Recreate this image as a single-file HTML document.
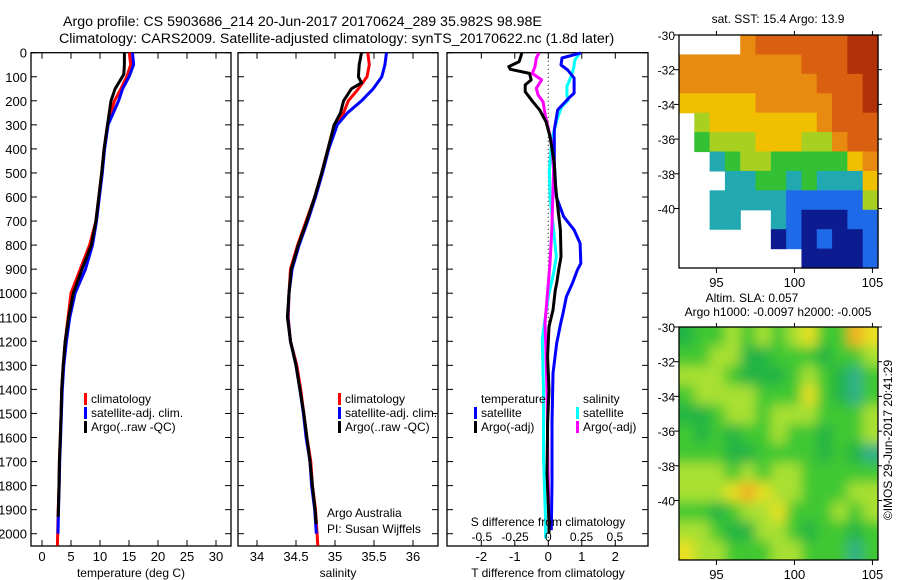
<!DOCTYPE html>
<html><head><meta charset="utf-8"><style>
html,body{margin:0;padding:0;background:#fff;}
svg{display:block;font-family:"Liberation Sans",sans-serif;}
text{fill:#000;}
</style></head><body>
<svg id="fig" width="900" height="580" viewBox="0 0 900 580" xmlns="http://www.w3.org/2000/svg">
<text x="63" y="26" font-size="14.2">Argo profile: CS 5903686_214 20-Jun-2017 20170624_289 35.982S 98.98E</text>
<text x="59" y="43" font-size="14.2">Climatology: CARS2009. Satellite-adjusted climatology: synTS_20170622.nc (1.8d later)</text>
<g id="g1"></g>
<g id="g2"></g>
<g id="g3"></g>
<g id="m1"></g>
<g id="m2"></g>
<text transform="translate(892,440) rotate(-90)" font-size="12" text-anchor="middle">©IMOS 29-Jun-2017 20:41:29</text>
</svg>
<script>
// ---- data ----
const depthTicks=[0,100,200,300,400,500,600,700,800,900,1000,1100,1200,1300,1400,1500,1600,1700,1800,1900,2000];
const tDepth=[0,50,100,150,200,300,400,500,600,700,800,900,1000,1100,1200,1300,1400,1500,1600,1700,1800,1900,2000,2050];
const tClim=[15.05,15.3,14.6,13.6,12.5,11.3,10.7,10.3,9.8,9.3,8.2,6.6,5.0,4.5,4.0,3.66,3.4,3.3,3.15,3.0,2.93,2.8,2.7,2.65];
const tSat=[15.6,15.8,15.0,13.9,13.2,11.4,10.8,10.4,9.9,9.4,8.7,7.5,5.7,4.8,4.2,3.75,3.5,3.35,3.2,3.05,2.97,2.85,2.75];
const tArgoDepth=[0,50,90,150,200,300,400,500,600,700,800,900,1000,1100,1200,1300,1400,1500,1600,1700,1800,1930];
const tArgo=[14.2,14.2,14.1,12.6,11.9,11.3,10.7,10.3,9.8,9.3,8.5,6.9,5.4,4.6,4.0,3.66,3.4,3.3,3.15,3.0,2.93,2.8];
const sDepth=[0,50,100,150,200,250,300,400,500,600,700,800,900,1000,1100,1200,1300,1400,1500,1600,1700,1800,1900,2000,2050];
const sClim=[35.42,35.44,35.41,35.30,35.17,35.11,34.99,34.91,34.83,34.74,34.63,34.52,34.43,34.41,34.40,34.43,34.51,34.56,34.60,34.64,34.69,34.71,34.75,34.77,34.78];
const sSat=[35.66,35.64,35.60,35.49,35.34,35.16,35.03,34.92,34.84,34.75,34.65,34.54,34.45,34.41,34.395,34.43,34.50,34.55,34.595,34.63,34.68,34.70,34.74,34.76];
const sArgoDepth=[0,50,100,125,150,200,250,300,400,500,600,700,800,900,1000,1100,1200,1300,1400,1500,1600,1700,1800,1900,1960];
const sArgo=[35.34,35.31,35.30,35.34,35.21,35.11,35.07,34.99,34.91,34.83,34.74,34.64,34.53,34.44,34.41,34.39,34.43,34.50,34.55,34.60,34.64,34.68,34.71,34.745,34.76];
const dtArgoDepth=[2,37,58,69,86,113,134,162,204,238,287,349,459,542,640,737,848,903,959,987,1070,1139,1264,1403,1541,1748,1956,2000];
const dtArgo=[-0.79,-0.87,-1.18,-1.13,-0.56,-0.51,-0.69,-0.69,-0.46,-0.26,-0.07,0.05,0.18,0.21,0.28,0.36,0.38,0.31,0.25,0.21,0.14,0.02,-0.02,0.02,-0.02,-0.04,0.02,0.02];
const dtSatDepth=[1,22,51,72,105,168,189,238,321,459,599,682,737,793,876,903,959,1014,1084,1125,1208,1333,1541,1790,1985];
const dtSat=[0.97,0.41,0.38,0.58,0.77,0.77,0.61,0.28,0.18,0.18,0.24,0.46,0.77,0.95,0.97,0.87,0.72,0.54,0.44,0.37,0.25,0.14,0.11,0.11,0.09];
const dsSatDepth=[1,30,65,100,141,176,197,225,280,363,488,599,737,848,917,1014,1139,1195,1403,1680,1956,2020];
const dsSat=[0.24,0.20,0.19,0.17,0.14,0.14,0.15,0.10,0.065,0.026,0.008,0.013,0.04,0.06,0.04,0.0,-0.033,-0.045,-0.036,-0.036,-0.02,-0.02];
const dsArgoDepth=[1,22,58,86,113,148,176,204,266,377,488,599,737,876,1014,1125,1195,1403,1680,1956];
const dsArgo=[-0.07,-0.09,-0.10,-0.12,-0.05,-0.09,-0.077,-0.04,-0.02,0.026,0.04,0.034,0.026,0.013,-0.008,-0.025,-0.02,-0.01,-0.004,0.005];
const tTicks=[0,5,10,15,20,25,30];
const salTicks=[34,34.5,35,35.5,36];
const salTickLabels=["34","34.5","35","35.5","36"];
const dTTicks=[-2,-1,0,1,2];
const dSTicks=[-0.5,-0.25,0,0.25,0.5];
const dSTickLabels=["-0.5","-0.25","0","0.25","0.5"];
const lonTicks=[95,100,105];
const latTicks=[-30,-32,-34,-36,-38,-40];
const sstGrid=["0000788888899","7777777788899","7777777778889","6666677777889","0566666667888","0455566655788","0034554444467","0003344343336","0033333222225","0033003211122","0000001212112","0000000011112"];
const slaGrid=["4556565675587","5566445554556","6665444565435","5666655575435","4456656665556","5454556554556","5554455554543","6665656655555","6667876655566","5545667555656","6654466545545","7665556655535"];
// ---- helpers ----
const NS="http://www.w3.org/2000/svg";
function mk(tag,at,parent){const e=document.createElementNS(NS,tag);for(const k in at)e.setAttribute(k,at[k]);parent.appendChild(e);return e;}
const Y0=52.7,YS=0.2405,YB=546;
const yD=d=>Y0+d*YS;
function panel(g,x0,x1,name){
  const r=mk('rect',{x:x0,y:Y0,width:x1-x0,height:YB-Y0,fill:'none',stroke:'#000','stroke-width':1.3},g);
  
  
  depthTicks.forEach(d=>{
    const y=yD(d);
    mk('line',{x1:x0,x2:x0+6,y1:y,y2:y,stroke:'#000'},g);
    mk('line',{x1:x1-6,x2:x1,y1:y,y2:y,stroke:'#000'},g);
  });
}
function xTicks(g,ticks,labels,xf,x0,x1,ly,name){
  ticks.forEach((t,i)=>{
    const x=xf(t);
    mk('line',{x1:x,x2:x,y1:YB,y2:YB-6,stroke:'#000'},g);
    mk('line',{x1:x,x2:x,y1:Y0,y2:Y0+6,stroke:'#000'},g);
    const tx=mk('text',{x:x,y:ly,'font-size':13,'text-anchor':'middle'},g);
    tx.textContent=labels[i];
    
    
  });
}
function line(g,xs,ds,xf,color,name){
  const pts=xs.map((v,i)=>xf(v).toFixed(1)+','+yD(ds[i]).toFixed(1)).join(' ');
  const p=mk('polyline',{points:pts,fill:'none',stroke:color,'stroke-width':3,'stroke-linejoin':'round'},g);
  
  
}
function label(g,x,y,s,txt,name,anchor){
  const t=mk('text',{x:x,y:y,'font-size':s,'text-anchor':anchor||'start'},g);
  t.textContent=txt;
  
  
  return t;
}
function legend(g,x,y,color,txt,name){
  const r=mk('rect',{x:x,y:y-10,width:3,height:12,fill:color},g);
  
  
  label(g,x+7,y,12,txt,name);
}
// ---- panel 1 ----
const g1=document.getElementById('g1');
const xT=v=>42+v*5.8;
panel(g1,31,231,'temperature');
depthTicks.forEach(d=>{label(g1,27,yD(d)+5,13,String(d),'depth-tick-label','end');});
xTicks(g1,tTicks,tTicks.map(String),xT,31,231,561,'temperature');
label(g1,131,577,12,'temperature (deg C)','temperature-axis-title','middle');
line(g1,tClim,tDepth,xT,'#f00','climatology-temperature');
line(g1,tSat,tDepth.slice(0,tSat.length),xT,'#00f','satellite-temperature');
line(g1,tArgo,tArgoDepth,xT,'#000','argo-temperature');
legend(g1,84,403,'#f00','climatology','legend-climatology');
legend(g1,84,417,'#00f','satellite-adj. clim.','legend-satellite');
legend(g1,84,431,'#000','Argo(..raw -QC)','legend-argo');
// ---- panel 2 ----
const g2=document.getElementById('g2');
const xS=v=>257+(v-34)*78;
panel(g2,238,438,'salinity');
xTicks(g2,salTicks,salTickLabels,xS,238,438,561,'salinity');
label(g2,338,577,12,'salinity','salinity-axis-title','middle');
line(g2,sClim,sDepth,xS,'#f00','climatology-salinity');
line(g2,sSat,sDepth.slice(0,sSat.length),xS,'#00f','satellite-salinity');
line(g2,sArgo,sArgoDepth,xS,'#000','argo-salinity');
legend(g2,338,403,'#f00','climatology','legend-climatology');
legend(g2,338,417,'#00f','satellite-adj. clim.','legend-satellite');
legend(g2,338,431,'#000','Argo(..raw -QC)','legend-argo');
label(g2,327,517,12,'Argo Australia','argo-australia-note');
label(g2,327,533,12,'PI: Susan Wijffels','pi-note');
// ---- panel 3 ----
const g3=document.getElementById('g3');
const xdT=v=>548.3+v*33.5;
const xdS=v=>548.3+v*133;
panel(g3,447,648,'difference');
mk('line',{x1:548.3,x2:548.3,y1:Y0,y2:YB,stroke:'#000','stroke-dasharray':'1,3'},g3);
xTicks(g3,dTTicks,dTTicks.map(String),xdT,447,648,561,'t-difference');
label(g3,548,577,12,'T difference from climatology','t-difference-axis-title','middle');
line(g3,dsSat,dsSatDepth,xdS,'#0ff','satellite-salinity-diff');
line(g3,dsArgo,dsArgoDepth,xdS,'#f0f','argo-salinity-diff');
line(g3,dtSat,dtSatDepth,xdT,'#00f','satellite-temperature-diff');
line(g3,dtArgo,dtArgoDepth,xdT,'#000','argo-temperature-diff');
label(g3,548,526,12,'S difference from climatology','s-difference-axis-title','middle');
dSTicks.forEach((t,i)=>label(g3,xdS(t),541,12,dSTickLabels[i],'s-difference-tick-label','middle'));
label(g3,481,403,12,'temperature','legend-temperature-heading');
label(g3,583,403,12,'salinity','legend-salinity-heading');
legend(g3,474,417,'#00f','satellite','legend-t-satellite');
legend(g3,474,431,'#000','Argo(-adj)','legend-t-argo');
legend(g3,576,417,'#0ff','satellite','legend-s-satellite');
legend(g3,576,431,'#f0f','Argo(-adj)','legend-s-argo');
// ---- maps ----
const sstPal={1:'#0c1c90',2:'#1e6ae8',3:'#22a8b0',4:'#34c034',5:'#a8d020',6:'#f0c000',7:'#e88a10',8:'#d86010',9:'#b03008'};
const slaPal={3:'#30b088',4:'#24b444',5:'#40c830',6:'#a8e030',7:'#e8e020',8:'#f0b020'};
function map(id,grid,pal,y0,y1,blur,name){
  const g=document.getElementById(id);
  const x0=679,x1=878;
  const lonX=l=>679+(l-92.6)*15.6;
  const latY=l=>y0+(-30-l)*17.35;
  const cw=(x1-x0)/grid[0].length, ch=(y1-y0)/grid.length;
  const cg=mk('g',{},g);
  if(blur){
    const f=mk('filter',{id:id+'f',x:'-10%',y:'-10%',width:'120%',height:'120%'},g);
    mk('feGaussianBlur',{stdDeviation:6},f);
    const cp=mk('clipPath',{id:id+'c'},g);
    mk('rect',{x:x0,y:y0,width:x1-x0,height:y1-y0},cp);
    cg.setAttribute('clip-path','url(#'+id+'c)');
  }
  const inner=mk('g',blur?{filter:'url(#'+id+'f)'}:{},cg);
  if(blur) mk('rect',{x:x0-20,y:y0-20,width:x1-x0+40,height:y1-y0+40,fill:'#40c830'},inner);
  grid.forEach((row,r)=>{[...row].forEach((c,k)=>{
    const v=+c; if(!v) return;
    const cell=mk('rect',{x:x0+k*cw-(blur&&k==0?20:0),y:y0+r*ch-(blur&&r==0?20:0),width:cw+0.6+(blur&&(k==0||k==row.length-1)?20:0),height:ch+0.6+(blur&&(r==0||r==grid.length-1)?20:0),fill:pal[v]},inner);
    
    
  });});
  mk('rect',{x:x0,y:y0,width:x1-x0,height:y1-y0,fill:'none',stroke:'#000','stroke-width':1.3},g);
  latTicks.forEach(l=>{const y=latY(l);mk('line',{x1:x0-5,x2:x0,y1:y,y2:y,stroke:'#000'},g);mk('line',{x1:x1,x2:x1+4,y1:y,y2:y,stroke:'#000'},g);label(g,x0-4,y+5,12,String(l),name+'-lat-label','end');});
  lonTicks.forEach(l=>{const x=lonX(l);mk('line',{x1:x,x2:x,y1:y1,y2:y1+5,stroke:'#000'},g);mk('line',{x1:x,x2:x,y1:y0-4,y2:y0,stroke:'#000'},g);label(g,x,y1+19,13,String(l),name+'-lon-label','middle');});
  return g;
}
const mg1=map('m1',sstGrid,sstPal,35,268,false,'sst');
label(mg1,778,23,12,'sat. SST: 15.4 Argo: 13.9','sst-map-title','middle');
const mg2=map('m2',slaGrid,slaPal,327,560,true,'sla');
label(mg2,752,302,12,'Altim. SLA: 0.057','sla-map-title','middle');
label(mg2,778,316,12,'Argo h1000: -0.0097 h2000: -0.005','sla-map-subtitle','middle');
</script>
</body></html>
